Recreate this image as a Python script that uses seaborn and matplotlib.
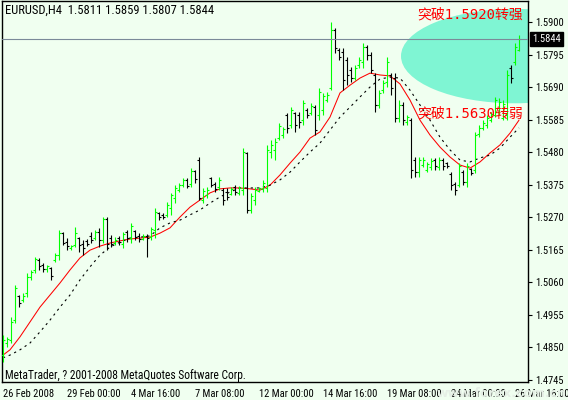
import os
import numpy as np
import pandas as pd
import matplotlib
matplotlib.use("Agg")
import matplotlib.pyplot as plt
import seaborn as sns
from matplotlib import font_manager as fm
from matplotlib.patches import Ellipse

# ---------------- data ----------------
x_labels = ["26 Feb 2008", "29 Feb 00:00", "4 Mar 16:00", "7 Mar 08:00", "12 Mar 00:00",
            "14 Mar 16:00", "19 Mar 08:00", "24 Mar 00:00", "26 Mar 16:00"]
x_label_pos = [0, 16, 32, 48, 64, 80, 96, 112, 128]
y_ticks = [1.5900, 1.5795, 1.5690, 1.5585, 1.5480, 1.5375, 1.5270, 1.5165,
           1.5060, 1.4955, 1.4850, 1.4745]

opens = [1.4824, 1.4863, 1.4873, 1.4937, 1.5015, 1.5002, 1.5024, 1.5076, 1.5099, 1.5131,
         1.5115, 1.5102, 1.5105, 1.5131, 1.5147, 1.5218, 1.5189, 1.5170, 1.5180, 1.5202,
         1.5183, 1.5192, 1.5209, 1.5202, 1.5222, 1.5196, 1.5263, 1.5202, 1.5186, 1.5202,
         1.5183, 1.5222, 1.5202, 1.5225, 1.5209, 1.5199, 1.5209, 1.5205, 1.5228, 1.5283,
         1.5277, 1.5277, 1.5299, 1.5332, 1.5357, 1.5373, 1.5390, 1.5377, 1.5418, 1.5454,
         1.5325, 1.5341, 1.5396, 1.5377, 1.5367, 1.5357, 1.5351, 1.5344, 1.5367, 1.5347,
         1.5357, 1.5477, 1.5293, 1.5325, 1.5354, 1.5360, 1.5364, 1.5480, 1.5487, 1.5525,
         1.5535, 1.5600, 1.5567, 1.5606, 1.5600, 1.5583, 1.5616, 1.5606, 1.5625, 1.5600,
         1.5616, 1.5648, 1.5687, 1.5874, 1.5810, 1.5803, 1.5777, 1.5745, 1.5719, 1.5761,
         1.5771, 1.5819, 1.5793, 1.5729, 1.5632, 1.5680, 1.5706, 1.5729, 1.5719, 1.5590,
         1.5632, 1.5577, 1.5583, 1.5454, 1.5415, 1.5438, 1.5422, 1.5432, 1.5454, 1.5432,
         1.5454, 1.5444, 1.5409, 1.5377, 1.5373, 1.5415, 1.5383, 1.5425, 1.5422, 1.5538,
         1.5558, 1.5567, 1.5583, 1.5600, 1.5609, 1.5590, 1.5600, 1.5751, 1.5771, 1.5811]
highs = [1.4889, 1.4883, 1.4947, 1.5050, 1.5018, 1.5024, 1.5089, 1.5099, 1.5141, 1.5138,
         1.5121, 1.5115, 1.5109, 1.5154, 1.5228, 1.5222, 1.5202, 1.5180, 1.5238, 1.5205,
         1.5196, 1.5199, 1.5222, 1.5228, 1.5235, 1.5270, 1.5270, 1.5212, 1.5205, 1.5209,
         1.5222, 1.5228, 1.5251, 1.5228, 1.5218, 1.5215, 1.5215, 1.5238, 1.5299, 1.5286,
         1.5283, 1.5319, 1.5347, 1.5373, 1.5380, 1.5396, 1.5396, 1.5428, 1.5422, 1.5464,
         1.5364, 1.5367, 1.5399, 1.5383, 1.5399, 1.5364, 1.5364, 1.5367, 1.5373, 1.5370,
         1.5493, 1.5480, 1.5347, 1.5367, 1.5367, 1.5390, 1.5503, 1.5519, 1.5525, 1.5574,
         1.5561, 1.5606, 1.5625, 1.5609, 1.5609, 1.5648, 1.5622, 1.5638, 1.5632, 1.5687,
         1.5671, 1.5674, 1.5900, 1.5881, 1.5816, 1.5816, 1.5787, 1.5755, 1.5761, 1.5787,
         1.5832, 1.5826, 1.5803, 1.5735, 1.5680, 1.5713, 1.5787, 1.5735, 1.5735, 1.5648,
         1.5642, 1.5600, 1.5590, 1.5464, 1.5464, 1.5464, 1.5448, 1.5461, 1.5461, 1.5464,
         1.5461, 1.5448, 1.5415, 1.5383, 1.5444, 1.5422, 1.5444, 1.5428, 1.5545, 1.5567,
         1.5583, 1.5600, 1.5609, 1.5658, 1.5654, 1.5648, 1.5745, 1.5761, 1.5832, 1.5859]
lows = [1.4802, 1.4851, 1.4863, 1.4928, 1.4979, 1.4996, 1.5012, 1.5067, 1.5089, 1.5099,
        1.5092, 1.5092, 1.5067, 1.5125, 1.5131, 1.5180, 1.5163, 1.5163, 1.5173, 1.5157,
        1.5147, 1.5176, 1.5186, 1.5196, 1.5173, 1.5186, 1.5163, 1.5173, 1.5180, 1.5180,
        1.5170, 1.5189, 1.5186, 1.5196, 1.5189, 1.5196, 1.5141, 1.5196, 1.5202, 1.5260,
        1.5263, 1.5270, 1.5277, 1.5315, 1.5351, 1.5367, 1.5364, 1.5367, 1.5380, 1.5325,
        1.5315, 1.5332, 1.5367, 1.5351, 1.5357, 1.5309, 1.5325, 1.5341, 1.5341, 1.5341,
        1.5341, 1.5283, 1.5283, 1.5309, 1.5351, 1.5351, 1.5351, 1.5461, 1.5454, 1.5519,
        1.5525, 1.5541, 1.5558, 1.5545, 1.5558, 1.5567, 1.5590, 1.5600, 1.5535, 1.5583,
        1.5600, 1.5642, 1.5680, 1.5800, 1.5777, 1.5680, 1.5696, 1.5706, 1.5713, 1.5751,
        1.5751, 1.5777, 1.5735, 1.5609, 1.5622, 1.5671, 1.5690, 1.5664, 1.5577, 1.5577,
        1.5567, 1.5567, 1.5396, 1.5399, 1.5399, 1.5432, 1.5415, 1.5422, 1.5422, 1.5422,
        1.5422, 1.5428, 1.5357, 1.5341, 1.5367, 1.5373, 1.5367, 1.5406, 1.5412, 1.5528,
        1.5551, 1.5558, 1.5577, 1.5593, 1.5600, 1.5583, 1.5583, 1.5703, 1.5761, 1.5807]
closes = [1.4873, 1.4876, 1.4931, 1.5041, 1.4992, 1.5015, 1.5076, 1.5092, 1.5134, 1.5112,
          1.5102, 1.5112, 1.5080, 1.5147, 1.5218, 1.5186, 1.5176, 1.5176, 1.5218, 1.5180,
          1.5170, 1.5183, 1.5196, 1.5222, 1.5196, 1.5263, 1.5183, 1.5183, 1.5196, 1.5189,
          1.5215, 1.5202, 1.5241, 1.5205, 1.5199, 1.5209, 1.5202, 1.5231, 1.5286, 1.5270,
          1.5270, 1.5309, 1.5341, 1.5364, 1.5373, 1.5390, 1.5370, 1.5418, 1.5393, 1.5332,
          1.5354, 1.5357, 1.5373, 1.5360, 1.5390, 1.5325, 1.5335, 1.5360, 1.5351, 1.5364,
          1.5480, 1.5293, 1.5338, 1.5357, 1.5364, 1.5380, 1.5487, 1.5503, 1.5512, 1.5564,
          1.5554, 1.5558, 1.5616, 1.5567, 1.5577, 1.5638, 1.5600, 1.5629, 1.5551, 1.5674,
          1.5661, 1.5664, 1.5874, 1.5816, 1.5787, 1.5713, 1.5729, 1.5719, 1.5751, 1.5777,
          1.5819, 1.5793, 1.5745, 1.5632, 1.5671, 1.5703, 1.5771, 1.5687, 1.5590, 1.5632,
          1.5583, 1.5593, 1.5422, 1.5415, 1.5454, 1.5454, 1.5441, 1.5451, 1.5435, 1.5454,
          1.5435, 1.5435, 1.5373, 1.5357, 1.5435, 1.5383, 1.5435, 1.5412, 1.5535, 1.5558,
          1.5574, 1.5590, 1.5603, 1.5648, 1.5642, 1.5635, 1.5729, 1.5719, 1.5819, 1.5844]

# moving averages, read at these bar positions
ma_pos = [0, 1.75, 4.25, 6.75, 9.25, 11.75, 14.25, 16.75, 19.25, 21.75, 24.25, 26.75,
          29.25, 31.75, 34.25, 36.75, 39.25, 41.75, 44.25, 46.75, 49.25, 51.75, 54.25,
          56.75, 59.25, 61.75, 64.25, 66.75, 69.25, 71.75, 74.25, 76.75, 79.25, 81.75,
          84.25, 86.75, 89.25, 91.75, 94.25, 96.75, 99.25, 101.75, 104.25, 106.75, 109.25,
          111.75, 114.25, 116.75, 119.25, 121.75, 124.25, 126.75, 129]
ma_fast = [1.4824, 1.4841, 1.4883, 1.4931, 1.4979, 1.5018, 1.5057, 1.5099, 1.5138, 1.5163,
           1.5176, 1.5186, 1.5193, 1.5199, 1.5202, 1.5205, 1.5218, 1.5235, 1.5270, 1.5302,
           1.5325, 1.5348, 1.5361, 1.5364, 1.5364, 1.5361, 1.5357, 1.5373, 1.5406, 1.5444,
           1.5480, 1.5525, 1.5545, 1.5593, 1.5671, 1.5696, 1.5719, 1.5735, 1.5729, 1.5726,
           1.5700, 1.5648, 1.5583, 1.5535, 1.5496, 1.5464, 1.5438, 1.5428, 1.5448, 1.5477,
           1.5503, 1.5541, 1.5583]
ma_slow = [1.4815, 1.4824, 1.4841, 1.4863, 1.4899, 1.4937, 1.4979, 1.5018, 1.5067, 1.5109,
           1.5147, 1.5173, 1.5189, 1.5202, 1.5205, 1.5209, 1.5235, 1.5251, 1.5260, 1.5277,
           1.5293, 1.5315, 1.5335, 1.5351, 1.5364, 1.5364, 1.5364, 1.5373, 1.5390, 1.5415,
           1.5448, 1.5480, 1.5509, 1.5551, 1.5593, 1.5625, 1.5658, 1.5690, 1.5716, 1.5722,
           1.5719, 1.5680, 1.5632, 1.5583, 1.5528, 1.5487, 1.5454, 1.5448, 1.5461, 1.5470,
           1.5493, 1.5528, 1.5558]

title_text = "EURUSD,H4  1.5811 1.5859 1.5807 1.5844"
copyright_text = "MetaTrader, ? 2001-2008 MetaQuotes Software Corp."
note_up = "突破1.5920转强"
note_down = "突破1.5630转弱"
watermark = "www.forex.com.cn"
last_price = 1.5844

# ---------------- style ----------------
BG = "#F0FFF0"
sns.set_style("white", {"axes.facecolor": BG, "figure.facecolor": BG})
plt.rcParams["font.family"] = ["DejaVu Sans", "Noto Sans CJK SC"]


def find_narrow_font():
    """Pick a narrow regular sans font file if one is installed."""
    prefs = ["liberationsansnarrow-regular", "notosans-condensed.", "robotocondensed-regular",
             "roboto_condensed-regular", "notosans-semicondensed.", "opensans_condensed-regular",
             "opensans-condensedregular", "dejavusanscondensed."]
    files = [e.fname for e in fm.fontManager.ttflist]
    for p in prefs:
        for f in files:
            if os.path.basename(f).lower().startswith(p):
                return f
    return None


W, H = 568, 400
fig = plt.figure(figsize=(W / 100, H / 100), dpi=100, facecolor=BG)
renderer = fig.canvas.get_renderer()

narrow = find_narrow_font()
base_fp = fm.FontProperties(fname=narrow) if narrow else fm.FontProperties(family="Roboto")


def sized(fp, size):
    q = fp.copy()
    q.set_size(size)
    return q


def fit_size(text, target_px, cap):
    probe = fig.text(0, 0, text, fontproperties=sized(base_fp, 10))
    w10 = probe.get_window_extent(renderer).width
    probe.remove()
    return min(cap, 10 * target_px / w10)


# font sizes chosen so that text widths match the reference
lab_fp = sized(base_fp, fit_size("12 Mar 00:00", 54.0, 8.0))
title_fp = sized(base_fp, fit_size(title_text, 212.0, 9.0))
copy_fp = sized(base_fp, fit_size(copyright_text, 240.0, 8.5))

ax = fig.add_axes([2 / W, 18 / H, 526 / W, 381 / H])
ax.set_facecolor(BG)

idx = np.arange(len(opens))
df = pd.DataFrame({"i": idx, "open": opens, "high": highs, "low": lows, "close": closes})
df["col"] = np.where(df["close"] > df["open"], "#00FF00", "#000000")

# highlight ellipse
ax.add_patch(Ellipse((128, 1.5790), width=57, height=0.0305, facecolor="#7FF5D3",
                     edgecolor="none", zorder=0.5))

# moving averages
ma_df = pd.DataFrame({"pos": ma_pos, "fast": ma_fast, "slow": ma_slow})
sns.lineplot(data=ma_df, x="pos", y="fast", color="#FF0000", linewidth=0.75, ax=ax, zorder=2)
sns.lineplot(data=ma_df, x="pos", y="slow", color="#000000", linewidth=0.8,
             linestyle=(0, (2, 3.5)), ax=ax, zorder=2)

# OHLC bars
lw = 0.8
ax.vlines(df["i"], df["low"], df["high"], colors=df["col"], linewidth=lw, zorder=3)
ax.hlines(df["open"], df["i"] - 0.4, df["i"], colors=df["col"], linewidth=lw, zorder=3)
ax.hlines(df["close"], df["i"], df["i"] + 0.4, colors=df["col"], linewidth=lw, zorder=3)

# bid line
ax.axhline(last_price, color="#7B8A99", linewidth=0.8, zorder=4)

ax.set_xlim(-0.25, 131.25)
ax.set_ylim(1.4737, 1.5968)
ax.set_xlabel("")
ax.set_ylabel("")

# axes / ticks
for s in ax.spines.values():
    s.set_visible(True)
    s.set_color("black")
    s.set_linewidth(1.0)
ax.yaxis.tick_right()
ax.set_yticks(y_ticks)
ax.set_yticklabels([f"{v:.4f}" for v in y_ticks])
ax.set_xticks(x_label_pos)
ax.set_xticklabels(x_labels)
ax.tick_params(axis="both", direction="out", length=3, width=0.8, color="black",
               labelcolor="black")
ax.tick_params(axis="y", pad=2.5)
ax.tick_params(axis="x", pad=2)
for lbl in ax.get_xticklabels():
    lbl.set_horizontalalignment("left")
    lbl.set_fontproperties(lab_fp)
for lbl in ax.get_yticklabels():
    lbl.set_fontproperties(lab_fp)

# current price box
ax.text(1.008, last_price, f"{last_price:.4f}", transform=ax.get_yaxis_transform(),
        ha="left", va="center", fontproperties=lab_fp, color="white", zorder=6,
        bbox=dict(boxstyle="square,pad=0.2", facecolor="black", edgecolor="black"),
        clip_on=False)

# texts
fig.text(5 / W, 1 - 10 / H, title_text, fontproperties=title_fp, color="black",
         ha="left", va="center")
fig.text(5 / W, 1 - 375 / H, copyright_text, fontproperties=copy_fp, color="black",
         ha="left", va="center")
fig.text(417 / W, 1 - 14 / H, note_up, fontsize=10, color="#FF0000", ha="left",
         va="center", family=["DejaVu Sans Mono", "Noto Sans CJK SC"], zorder=7)
fig.text(417 / W, 1 - 114 / H, note_down, fontsize=10, color="#FF0000", ha="left",
         va="center", family=["DejaVu Sans Mono", "Noto Sans CJK SC"], zorder=7)
fig.text(1 - 2 / W, 0 / H, watermark, fontsize=9, color="#E6EFE6",
         ha="right", va="bottom", fontweight="bold", zorder=0)

fig.savefig("out.png", dpi=100, facecolor=BG)
